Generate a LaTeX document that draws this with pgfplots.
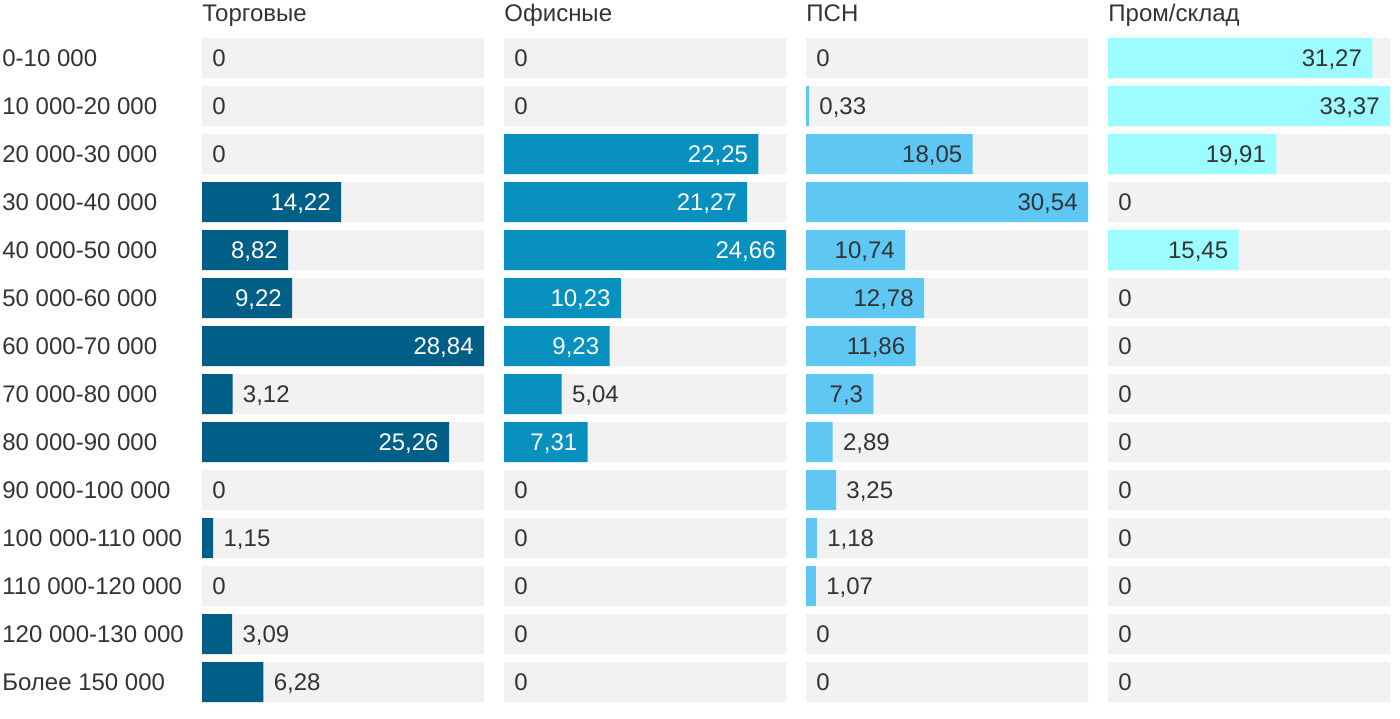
\documentclass[border=0pt,12pt]{standalone}
\usepackage{pgfplots}
\pgfplotsset{compat=1.18}
\usepackage{pgfplotstable}
\usepgfplotslibrary{groupplots}
\usepackage{fontspec}
\setmainfont{Liberation Sans}

\definecolor{torg}{HTML}{005F87}
\definecolor{ofis}{HTML}{0891BF}
\definecolor{psn}{HTML}{5EC7F3}
\definecolor{prom}{HTML}{9CFCFF}
\definecolor{bggray}{HTML}{F2F2F2}
\definecolor{txt}{HTML}{333333}

% idx val lbl full
\pgfplotstableread{
idx val   lbl   full
0   0     0     28.84
1   0     0     28.84
2   0     0     28.84
3   14.22 14,22 28.84
4   8.82  8,82  28.84
5   9.22  9,22  28.84
6   28.84 28,84 28.84
7   3.12  3,12  28.84
8   25.26 25,26 28.84
9   0     0     28.84
10  1.15  1,15  28.84
11  0     0     28.84
12  3.09  3,09  28.84
13  6.28  6,28  28.84
}\torgdata

\pgfplotstableread{
idx val   lbl   full
0   0     0     24.66
1   0     0     24.66
2   22.25 22,25 24.66
3   21.27 21,27 24.66
4   24.66 24,66 24.66
5   10.23 10,23 24.66
6   9.23  9,23  24.66
7   5.04  5,04  24.66
8   7.31  7,31  24.66
9   0     0     24.66
10  0     0     24.66
11  0     0     24.66
12  0     0     24.66
13  0     0     24.66
}\ofisdata

\pgfplotstableread{
idx val   lbl   full
0   0     0     30.54
1   0.33  0,33  30.54
2   18.05 18,05 30.54
3   30.54 30,54 30.54
4   10.74 10,74 30.54
5   12.78 12,78 30.54
6   11.86 11,86 30.54
7   7.3   7,3   30.54
8   2.89  2,89  30.54
9   3.25  3,25  30.54
10  1.18  1,18  30.54
11  1.07  1,07  30.54
12  0     0     30.54
13  0     0     30.54
}\psndata

\pgfplotstableread{
idx val   lbl   full
0   31.27 31,27 33.37
1   33.37 33,37 33.37
2   19.91 19,91 33.37
3   0     0     33.37
4   15.45 15,45 33.37
5   0     0     33.37
6   0     0     33.37
7   0     0     33.37
8   0     0     33.37
9   0     0     33.37
10  0     0     33.37
11  0     0     33.37
12  0     0     33.37
13  0     0     33.37
}\promdata

\pgfplotsset{
  rowbar/.style={xbar, bar width=20pt, bar shift=0pt, draw=none, fill=#1,
    restrict x to domain=0.01:100},
  lblin/.style 2 args={xbar, bar width=20pt, bar shift=0pt, draw=none, fill=none,
    restrict x to domain=#1:100, point meta=explicit symbolic, nodes near coords,
    nodes near coords style={anchor=east, xshift=-5pt, inner sep=0pt, text depth=0pt, text=#2}},
  lblout/.style={xbar, bar width=20pt, bar shift=0pt, draw=none, fill=none,
    restrict x to domain=0:#1, point meta=explicit symbolic, nodes near coords,
    nodes near coords style={anchor=west, xshift=5pt, inner sep=0pt, text depth=0pt, text=txt}},
}

\begin{document}
\begin{tikzpicture}
\begin{groupplot}[
  group style={group size=4 by 1, horizontal sep=10pt},
  width=141pt, height=336pt, scale only axis,
  ymin=-0.5, ymax=13.5, y dir=reverse,
  xmin=0, enlargelimits=false,
  xtick=\empty, ytick=\empty,
  axis line style={draw=none}, tick style={draw=none},
  clip=false,
  title style={at={(0,1)}, anchor=base west, yshift=0.5pt, inner sep=0pt, text=txt},
]

\nextgroupplot[title=Торговые, xmax=28.84,
  ytick={0,...,13},
  yticklabels={0-10 000, 10 000-20 000, 20 000-30 000, 30 000-40 000, 40 000-50 000,
    50 000-60 000, 60 000-70 000, 70 000-80 000, 80 000-90 000, 90 000-100 000,
    100 000-110 000, 110 000-120 000, 120 000-130 000, Более 150 000},
  yticklabel style={anchor=west, xshift=-100pt, inner sep=0pt, text=txt}]
\addplot[rowbar=bggray] table[x=full, y=idx] {\torgdata};
\addplot[rowbar=torg] table[x=val, y=idx] {\torgdata};
\addplot[lblin={7.5}{white}] table[x=val, y=idx, meta=lbl] {\torgdata};
\addplot[lblout=7.5] table[x=val, y=idx, meta=lbl] {\torgdata};

\nextgroupplot[title=Офисные, xmax=24.66]
\addplot[rowbar=bggray] table[x=full, y=idx] {\ofisdata};
\addplot[rowbar=ofis] table[x=val, y=idx] {\ofisdata};
\addplot[lblin={6}{white}] table[x=val, y=idx, meta=lbl] {\ofisdata};
\addplot[lblout=6] table[x=val, y=idx, meta=lbl] {\ofisdata};

\nextgroupplot[title=ПСН, xmax=30.54]
\addplot[rowbar=bggray] table[x=full, y=idx] {\psndata};
\addplot[rowbar=psn] table[x=val, y=idx] {\psndata};
\addplot[lblin={5}{txt}] table[x=val, y=idx, meta=lbl] {\psndata};
\addplot[lblout=5] table[x=val, y=idx, meta=lbl] {\psndata};

\nextgroupplot[title=Пром/склад, xmax=33.37]
\addplot[rowbar=bggray] table[x=full, y=idx] {\promdata};
\addplot[rowbar=prom] table[x=val, y=idx] {\promdata};
\addplot[lblin={8}{txt}] table[x=val, y=idx, meta=lbl] {\promdata};
\addplot[lblout=8] table[x=val, y=idx, meta=lbl] {\promdata};
\end{groupplot}
\pgfresetboundingbox
\path[use as bounding box] ([xshift=-101pt,yshift=17pt]group c1r1.north west)
  rectangle ([xshift=5pt,yshift=-6pt]group c4r1.south east);
\end{tikzpicture}
\end{document}
